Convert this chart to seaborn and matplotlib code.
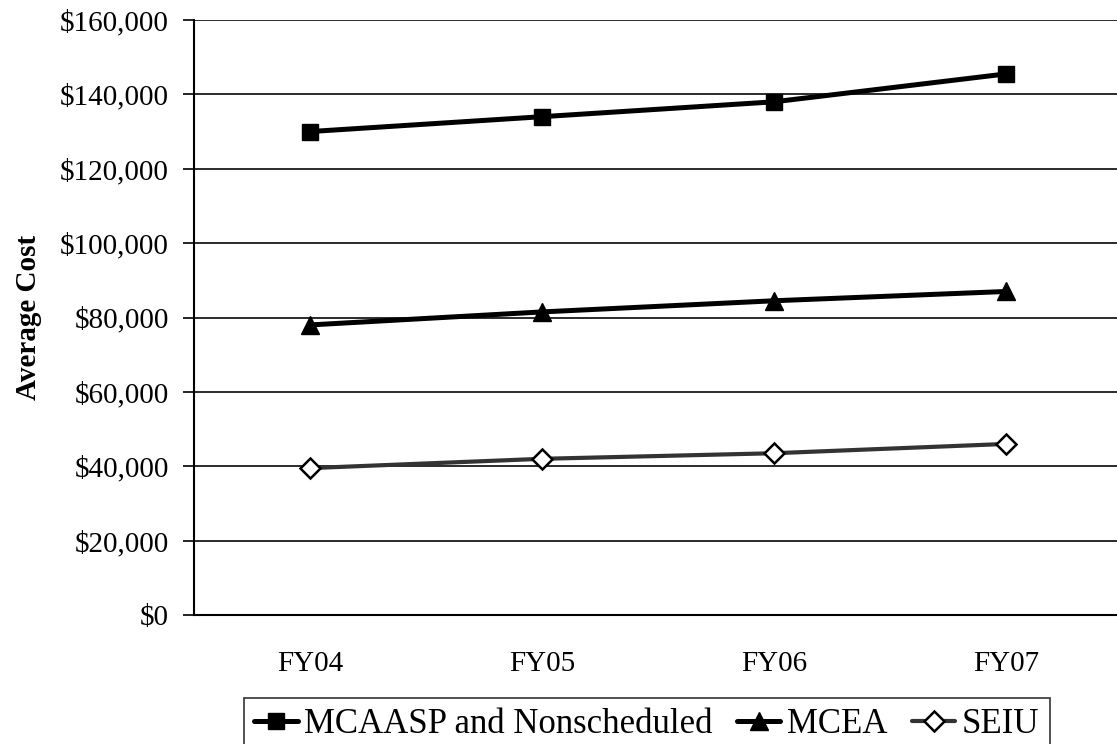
import matplotlib
matplotlib.use("Agg")
import matplotlib.pyplot as plt
import seaborn as sns
import pandas as pd
from matplotlib.ticker import FuncFormatter, FixedLocator

years = ["FY04", "FY05", "FY06", "FY07"]
mcaasp = [130000, 134000, 138000, 145500]
mcea = [78000, 81500, 84500, 87000]
seiu = [39500, 42000, 43500, 46000]
series_names = ["MCAASP and Nonscheduled", "MCEA", "SEIU"]
y_ticks = [0, 20000, 40000, 60000, 80000, 100000, 120000, 140000, 160000]

sns.set_theme(style="white")
plt.rcParams['font.family'] = ['Liberation Serif', 'DejaVu Serif']

fig = plt.figure(figsize=(11.17, 7.44), dpi=100)
ax = fig.add_axes([194/1117, 1 - 615/744, 928/1117, 595/744])

styles = [
    dict(marker="s", color="black", lw=3.6, ms=12, mfc="black", mec="black", mew=1),
    dict(marker="^", color="black", lw=3.6, ms=13, mfc="black", mec="black", mew=1),
    dict(marker="D", color="#333333", lw=3.0, ms=10.5, mfc="white", mec="black", mew=1.8),
]
xpos = list(range(len(years)))
for name, vals, st in zip(series_names, [mcaasp, mcea, seiu], styles):
    df = pd.DataFrame({"x": xpos, "y": vals})
    sns.lineplot(data=df, x="x", y="y", ax=ax, label=name,
                 marker=st["marker"], color=st["color"], lw=st["lw"],
                 markersize=st["ms"], markerfacecolor=st["mfc"],
                 markeredgecolor=st["mec"], markeredgewidth=st["mew"],
                 zorder=3)

ax.set_xlim(-0.5, 3.5)
ax.set_ylim(0, 160000)
ax.set_yticks(y_ticks)
ax.yaxis.set_major_formatter(FuncFormatter(lambda v, p: f"${int(v):,}"))
ax.yaxis.grid(True, color="#1a1a1a", lw=1.3)
ax.set_axisbelow(True)

ax.xaxis.set_major_locator(FixedLocator([-0.5, 0.5, 1.5, 2.5, 3.5]))
ax.xaxis.set_major_formatter(FuncFormatter(lambda v, p: ""))
ax.xaxis.set_minor_locator(FixedLocator(xpos))
ax.set_xticklabels(years, minor=True)
ax.tick_params(axis="x", which="major", direction="out", length=8, width=1.2, color="black")
ax.tick_params(axis="x", which="minor", length=0, pad=26, labelsize=21, labelcolor="black")
ax.tick_params(axis="y", direction="out", length=8, width=1.2, color="black",
               labelsize=21, pad=10, labelcolor="black", left=True)

for s in ["top", "right"]:
    ax.spines[s].set_visible(False)
for s in ["left", "bottom"]:
    ax.spines[s].set_color("black")
    ax.spines[s].set_linewidth(1.5)

ax.set_xlabel("")
ax.set_ylabel("Average Cost", fontsize=21, fontweight="bold", color="black", labelpad=13)

leg = ax.legend(loc="upper center", bbox_to_anchor=(647/1117, 1 - 698/744),
                bbox_transform=fig.transFigure, ncol=3, fontsize=25,
                frameon=True, fancybox=False, edgecolor="black",
                handlelength=1.24, handletextpad=0.2, columnspacing=0.7,
                borderpad=0.3, borderaxespad=0)
leg.get_frame().set_linewidth(1.2)
for t in leg.get_texts():
    t.set_color("black")

fig.savefig("out.png", dpi=100)
